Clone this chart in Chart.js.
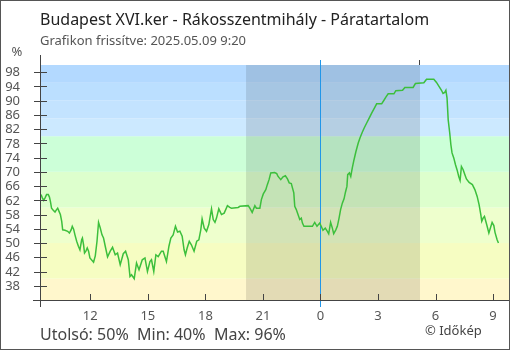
<!DOCTYPE html>
<html>
<head>
<meta charset="utf-8">
<script src="https://cdn.jsdelivr.net/npm/chart.js@4"></script>
<style>
  html, body { margin: 0; padding: 0; background: #fff; }
  canvas { display: block; }
</style>
</head>
<body>
<canvas id="humChart" width="510" height="350"></canvas>
<script>
// time of reading, hours since previous midnight (24 = 0:00 today)
const hours = [
  9.43, 9.50, 9.57, 9.64, 9.72, 9.81, 9.87, 9.92, 9.98, 10.07,
  10.16, 10.24, 10.30, 10.37, 10.44, 10.51, 10.56, 10.68, 10.82, 10.91,
  11.00, 11.06, 11.13, 11.20, 11.29, 11.38, 11.46, 11.55, 11.59, 11.65,
  11.70, 11.77, 11.84, 11.91, 11.98, 12.17, 12.26, 12.35, 12.43, 12.52,
  12.61, 12.69, 12.78, 12.90, 13.04, 13.16, 13.30, 13.42, 13.56, 13.72,
  13.84, 13.98, 14.07, 14.15, 14.29, 14.41, 14.54, 14.71, 14.85, 14.98,
  15.11, 15.19, 15.31, 15.42, 15.54, 15.71, 15.80, 15.97, 16.10, 16.20,
  16.32, 16.44, 16.55, 16.67, 16.79, 16.89, 16.96, 17.05, 17.16, 17.27,
  17.41, 17.55, 17.66, 17.76, 17.83, 17.94, 18.06, 18.18, 18.32, 18.41,
  18.50, 18.58, 18.70, 18.84, 18.98, 19.15, 19.27, 19.36, 19.71, 19.80,
  20.23, 20.32, 20.44, 20.58, 20.66, 20.84, 20.92, 21.02, 21.15, 21.23,
  21.32, 21.41, 21.61, 21.72, 21.79, 21.93, 22.05, 22.17, 22.28, 22.37,
  22.48, 22.54, 22.61, 22.66, 22.74, 22.83, 22.92, 23.00, 23.06, 23.14,
  23.35, 23.58, 23.70, 23.82, 23.96, 24.04, 24.13, 24.25, 24.36, 24.43,
  24.53, 24.62, 24.69, 24.80, 24.88, 24.97, 25.05, 25.14, 25.23, 25.30,
  25.38, 25.42, 25.51, 25.58, 25.66, 25.75, 25.85, 25.97, 26.06, 26.18,
  26.28, 26.41, 26.54, 26.67, 26.79, 26.93, 27.19, 27.31, 27.41, 27.53,
  27.83, 27.93, 28.28, 28.40, 28.83, 28.95, 29.39, 29.53, 29.91, 30.05,
  30.18, 30.31, 30.39, 30.48, 30.54, 30.60, 30.66, 30.74, 30.80, 30.86,
  30.95, 31.04, 31.12, 31.21, 31.28, 31.35, 31.44, 31.53, 31.61, 31.75,
  31.92, 32.05, 32.17, 32.27, 32.36, 32.41, 32.48, 32.55, 32.62, 32.69,
  32.78, 32.86, 32.95, 33.04, 33.10, 33.21, 33.28
];

// relative humidity, %
const humidity = [
  63.6, 62.7, 62.0, 62.7, 63.6, 63.6, 62.9, 61.7, 59.8, 59.2,
  58.7, 59.4, 59.8, 58.9, 58.0, 56.1, 53.7, 53.6, 53.3, 52.8,
  53.7, 54.7, 53.9, 52.3, 50.5, 49.1, 48.1, 50.9, 51.4, 49.5,
  47.2, 47.7, 48.6, 47.7, 45.8, 44.6, 46.4, 50.5, 55.8, 54.2,
  52.3, 51.4, 49.1, 46.1, 47.7, 48.8, 46.7, 47.2, 43.9, 47.0,
  47.7, 45.3, 40.6, 41.1, 40.0, 44.4, 42.5, 45.3, 45.8, 42.0,
  44.8, 45.3, 42.0, 46.7, 46.2, 47.7, 47.7, 44.8, 49.1, 51.4,
  52.3, 54.7, 53.1, 53.3, 51.9, 48.1, 46.7, 48.6, 50.5, 49.5,
  47.7, 50.5, 50.9, 53.7, 56.8, 54.2, 53.3, 55.2, 59.6, 56.6,
  55.8, 57.0, 59.6, 58.0, 58.4, 60.5, 60.0, 59.8, 60.0, 60.3,
  60.5, 59.8, 58.6, 60.5, 59.8, 59.8, 62.2, 63.8, 65.0, 66.4,
  67.8, 69.7, 69.8, 69.5, 68.7, 67.8, 68.6, 68.9, 68.0, 66.9,
  66.7, 65.5, 64.1, 60.3, 59.4, 58.0, 56.6, 57.0, 55.6, 54.7,
  54.7, 54.7, 55.8, 54.7, 55.6, 54.7, 53.6, 54.2, 53.3, 52.6,
  55.8, 54.2, 52.6, 53.7, 54.7, 57.0, 59.4, 61.2, 62.4, 64.2,
  65.9, 69.2, 69.7, 68.7, 71.1, 73.4, 75.7, 78.1, 79.5, 81.1,
  82.3, 83.7, 85.1, 86.5, 87.7, 89.1, 89.1, 90.1, 91.0, 91.9,
  91.9, 92.8, 92.9, 93.7, 93.7, 94.8, 95.0, 96.0, 96.0, 95.1,
  94.0, 92.9, 92.0, 92.3, 92.9, 90.7, 84.6, 80.9, 77.6, 75.3,
  73.9, 72.0, 70.6, 68.7, 67.6, 71.5, 70.6, 69.2, 68.0, 67.0,
  66.4, 65.0, 63.1, 60.8, 58.0, 56.1, 57.0, 57.5, 56.1, 54.7,
  52.8, 54.2, 55.8, 54.9, 53.0, 50.9, 50.0
];

const xTicks = [12, 15, 18, 21, 24, 27, 30, 33];
const xTickLabels = ['12', '15', '18', '21', '0', '3', '6', '9'];
const yTicks = [38, 42, 46, 50, 54, 58, 62, 66, 70, 74, 78, 82, 86, 90, 94, 98];

// humidity zones behind the plot
const bandEdges = [34, 40, 50, 60, 70, 80, 85, 90, 95, 100];
const bandColors = ['#fff7cc', '#f6fdc2', '#eeffcd', '#ddffcd', '#ccffd8',
                    '#cce9ff', '#c3e3ff', '#bbdfff', '#b3d9ff'];

const sunset = 20.12;   // 20:07
const sunrise = 29.19;  // 5:11
const midnight = 24;

const title = 'Budapest XVI.ker - Rákosszentmihály - Páratartalom';
const subtitle = 'Grafikon frissítve: 2025.05.09 9:20';

const FONT = '"Noto Sans", "Open Sans", sans-serif';

const last = Math.round(humidity[humidity.length - 1]);
const minVal = Math.round(Math.min(...humidity));
const maxVal = Math.round(Math.max(...humidity));

const frame = {
    id: 'frame',
    beforeDraw(chart) {
        const c = chart.ctx;
        const a = chart.chartArea;
        const x = chart.scales.x;
        const y = chart.scales.y;
        c.save();
        c.fillStyle = '#fff';
        c.fillRect(0, 0, chart.width, chart.height);
        // colour zones
        for (let i = 0; i < bandColors.length; i++) {
            const top = y.getPixelForValue(bandEdges[i + 1]);
            const bot = y.getPixelForValue(bandEdges[i]);
            c.fillStyle = bandColors[i];
            c.fillRect(a.left, top, a.right - a.left, bot - top);
        }
        // night
        const x0 = x.getPixelForValue(sunset);
        const x1 = x.getPixelForValue(sunrise);
        c.fillStyle = 'rgba(0, 0, 0, 0.11)';
        c.fillRect(x0, a.top, x1 - x0, a.bottom - a.top);
        // midnight marker
        const xm = Math.round(x.getPixelForValue(midnight)) + 0.5;
        c.strokeStyle = '#2196e8';
        c.lineWidth = 1;
        c.beginPath();
        c.moveTo(xm, a.top - 5);
        c.lineTo(xm, a.bottom + 7);
        c.stroke();
        c.restore();
    },
    afterDraw(chart) {
        const c = chart.ctx;
        const a = chart.chartArea;
        const x = chart.scales.x;
        const y = chart.scales.y;
        c.save();
        c.strokeStyle = '#444';
        c.lineWidth = 1;
        c.beginPath();
        // axes
        const ax = a.left - 0.5;
        const ay = Math.round(a.bottom) + 0.5;
        c.moveTo(ax, a.top - 10);
        c.lineTo(ax, a.bottom + 7);
        c.moveTo(a.left - 8, ay);
        c.lineTo(a.right, ay);
        // y ticks cross the axis
        yTicks.forEach(v => {
            const py = Math.round(y.getPixelForValue(v)) + 0.5;
            c.moveTo(a.left - 7, py);
            c.lineTo(a.left + 6, py);
        });
        // x ticks point into the plot
        xTicks.forEach(v => {
            const px = Math.round(x.getPixelForValue(v)) + 0.5;
            c.moveTo(px, a.bottom - 6);
            c.lineTo(px, a.bottom);
        });
        // sunrise mark above the plot
        const ps = Math.round(x.getPixelForValue(sunrise)) - 0.5;
        c.moveTo(ps, a.top - 5);
        c.lineTo(ps, a.top);
        c.stroke();

        // tick labels
        c.fillStyle = '#555';
        c.font = '13px ' + FONT;
        c.textAlign = 'right';
        c.textBaseline = 'middle';
        yTicks.forEach(v => {
            c.fillText(String(v), 20, y.getPixelForValue(v) + 0.5);
        });
        c.textAlign = 'center';
        c.textBaseline = 'alphabetic';
        xTicks.forEach((v, i) => {
            c.fillText(xTickLabels[i], x.getPixelForValue(v), a.bottom + 19.5);
        });

        // texts
        c.textAlign = 'left';
        c.fillStyle = '#222';
        c.font = '16px ' + FONT;
        c.fillText(title, 40, 24.5);
        c.fillStyle = '#555';
        c.font = '13px ' + FONT;
        c.fillText(subtitle, 40, 45);
        c.textAlign = 'center';
        c.fillText('%', 17, 55.5);
        c.textAlign = 'left';
        c.fillStyle = '#444';
        c.font = '16px ' + FONT;
        c.fillText('Utolsó: ' + last + '%  Min: ' + minVal + '%  Max: ' + maxVal + '%', 40, 339.5);
        c.font = '13px ' + FONT;
        c.fillText('© Időkép', 425, 335);

        // outer border
        c.strokeStyle = '#555';
        c.strokeRect(0.5, 0.5, chart.width - 1, chart.height - 1);
        c.restore();
    }
};

const ctx = document.getElementById('humChart').getContext('2d');

const humChart = new Chart(ctx, {
    type: 'line',
    data: {
        datasets: [{
            data: hours.map((h, i) => ({ x: h, y: humidity[i] })),
            borderColor: '#3cbf3c',
            borderWidth: 1.5,
            pointRadius: 0,
            tension: 0,
            fill: false
        }]
    },
    options: {
        responsive: false,
        animation: false,
        layout: {
            padding: { top: 65, right: 1, left: 0, bottom: 0 }
        },
        plugins: {
            legend: { display: false },
            tooltip: { enabled: false }
        },
        scales: {
            x: {
                type: 'linear',
                min: 9.43,
                max: 33.83,
                grid: { display: false },
                border: { display: false },
                ticks: { display: false },
                afterBuildTicks: s => { s.ticks = xTicks.map(v => ({ value: v })); },
                afterFit: s => { s.height = 50; }
            },
            y: {
                min: 34,
                max: 100,
                grid: { display: false },
                border: { display: false },
                ticks: { display: false },
                afterBuildTicks: s => { s.ticks = yTicks.map(v => ({ value: v })); },
                afterFit: s => { s.width = 41; }
            }
        }
    },
    plugins: [frame]
});
</script>
</body>
</html>
